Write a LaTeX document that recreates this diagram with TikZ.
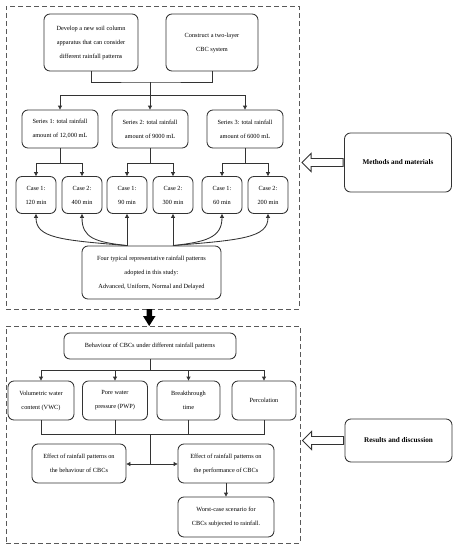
\documentclass[tikz,border=0pt]{standalone}
\usepackage{fontspec}
\setmainfont{Liberation Serif}
\usetikzlibrary{arrows.meta,calc}
\begin{document}
\begin{tikzpicture}[x=1pt,y=-1pt,
  box/.style={draw=black!80, line width=0.85pt, rounded corners=6pt, align=center, inner sep=0pt, font=\fontsize{6.3}{14}\selectfont},
  sidebox/.style={box, font=\fontsize{7.2}{14}\selectfont\bfseries},
  frame/.style={draw=black!65, line width=0.9pt, dash pattern=on 5pt off 3pt, inner sep=0pt},
  conn/.style={draw=black!80, line width=0.85pt},
  arr/.style={conn, -{Triangle[length=4pt,width=4pt]}},
  pics/hollowarrow/.style={code={
    \draw[conn, fill=white] (-1,-4) -- (-33,-4) -- (-33,-9) -- (-42,0) -- (-33,9) -- (-33,4) -- (-1,4) -- cycle;}}
]
\useasboundingbox (0,0) rectangle (461,550);

% frames
\node[frame, minimum width=293pt, minimum height=303pt] (ftop) at (152.5,157.5) {};
\node[frame, minimum width=294pt, minimum height=217pt] (fbot) at (153,434.5) {};

% top section
\node[box, minimum width=94pt, minimum height=57pt] (b1) at (91,42.5) {Develop a new soil column\\apparatus that can consider\\different rainfall patterns};
\node[box, minimum width=92pt, minimum height=57pt] (b2) at (212,42.5) {Construct a two-layer\\CBC system};

\node[box, minimum width=76pt, minimum height=38pt] (s1) at (60,129) {Series 1: total rainfall\\amount of 12,000 mL};
\node[box, minimum width=76pt, minimum height=38pt] (s2) at (150,129) {Series 2: total rainfall\\amount of 9000 mL};
\node[box, minimum width=76pt, minimum height=38pt] (s3) at (245,129) {Series 3: total rainfall\\amount of 6000 mL};

\node[box, minimum width=40pt, minimum height=37pt] (c1) at (36,195) {Case 1:\\120 min};
\node[box, minimum width=40pt, minimum height=37pt] (c2) at (82,195) {Case 2:\\400 min};
\node[box, minimum width=40pt, minimum height=37pt] (c3) at (127,195) {Case 1:\\90 min};
\node[box, minimum width=40pt, minimum height=37pt] (c4) at (173,195) {Case 2:\\300 min};
\node[box, minimum width=40pt, minimum height=37pt] (c5) at (222,195) {Case 1:\\60 min};
\node[box, minimum width=40pt, minimum height=37pt] (c6) at (268,195) {Case 2:\\200 min};

\node[box, minimum width=139pt, minimum height=53pt] (four) at (151.5,272.5) {Four typical representative rainfall patterns\\adopted in this study:\\Advanced, Uniform, Normal and Delayed};

\coordinate (j1) at (150,82);
\coordinate (j2) at (150,95);
\draw[conn] (b1.south) |- (j1) -| (b2.south);
\draw[arr] (j1) -- (s2.north);
\draw[arr] (j2) -| (s1.north);
\draw[arr] (j2) -| (s3.north);

\draw[conn] (s1.south) -- ++(0,15) coordinate (k1);
\draw[arr] (k1) -| (c1.north);
\draw[arr] (k1) -| (c2.north);
\draw[conn] (s2.south) -- ++(0,15) coordinate (k2);
\draw[arr] (k2) -| (c3.north);
\draw[arr] (k2) -| (c4.north);
\draw[conn] (s3.south) -- ++(0,15) coordinate (k3);
\draw[arr] (k3) -| (c5.north);
\draw[arr] (k3) -| (c6.north);

\coordinate (f1) at (c3.south |- four.north);
\coordinate (f2) at (c4.south |- four.north);
\draw[arr] (f1) -- (c3.south);
\draw[arr] (f2) -- (c4.south);
\draw[arr] (f1) .. controls (60,240) and (36,238) .. (c1.south);
\draw[arr] (f1) .. controls (95,242) and (82,238) .. (c2.south);
\draw[arr] (f2) .. controls (205,242) and (222,238) .. (c5.south);
\draw[arr] (f2) .. controls (240,240) and (268,238) .. (c6.south);

% big down arrow
\fill[black] (146.5,309) -- (152,309) -- (152,316) -- (155.5,316) -- (149.2,326) -- (143,316) -- (146.5,316) -- cycle;

% bottom section
\node[box, minimum width=172pt, minimum height=26pt] (beh) at (150,346) {Behaviour of CBCs under different rainfall patterns};
\node[box, minimum width=66pt, minimum height=39pt] (v1) at (41,400.5) {Volumetric water\\content (VWC)};
\node[box, minimum width=65pt, minimum height=39pt] (v2) at (115,400.5) {Pore water\\pressure (PWP)};
\node[box, minimum width=63pt, minimum height=39pt] (v3) at (188.5,400.5) {Breakthrough\\time};
\node[box, minimum width=64pt, minimum height=39pt] (v4) at (264,400.5) {Percolation};

\node[box, minimum width=94pt, minimum height=39pt] (eb) at (79,463.5) {Effect of rainfall patterns on\\the behaviour of CBCs};
\node[box, minimum width=96pt, minimum height=39pt] (ep) at (226,463.5) {Effect of rainfall patterns on\\the performance of CBCs};
\node[box, minimum width=96pt, minimum height=40pt] (wc) at (226,517) {Worst-case scenario for\\CBCs subjected to rainfall.};

\draw[conn] (beh.south) -- ++(0,11) coordinate (m1);
\draw[arr] (m1) -| (v1.north);
\draw[arr] (m1) -| (v2.north);
\draw[arr] (m1) -| (v3.north);
\draw[arr] (m1) -| (v4.north);

\coordinate (m2) at (150,434);
\coordinate (m3) at (150,464);
\draw[conn] (v1.south) |- (v4.south |- m2) -- (v4.south);
\draw[conn] (v2.south) -- (v2.south |- m2);
\draw[conn] (v3.south) -- (v3.south |- m2);
\draw[conn] (m2) -- (m3);
\draw[arr] (m3) -- (eb.east |- m3);
\draw[arr] (m3) -- (ep.west |- m3);
\draw[arr] (ep.south) -- (wc.north);

% side labels
\node[sidebox, minimum width=107pt, minimum height=59pt] (mm) at (398,162.5) {Methods and materials};
\node[sidebox, minimum width=107pt, minimum height=43pt] (rd) at (398.5,440.5) {Results and discussion};
\pic at (mm.west) {hollowarrow};
\pic at (rd.west) {hollowarrow};
\end{tikzpicture}
\end{document}
